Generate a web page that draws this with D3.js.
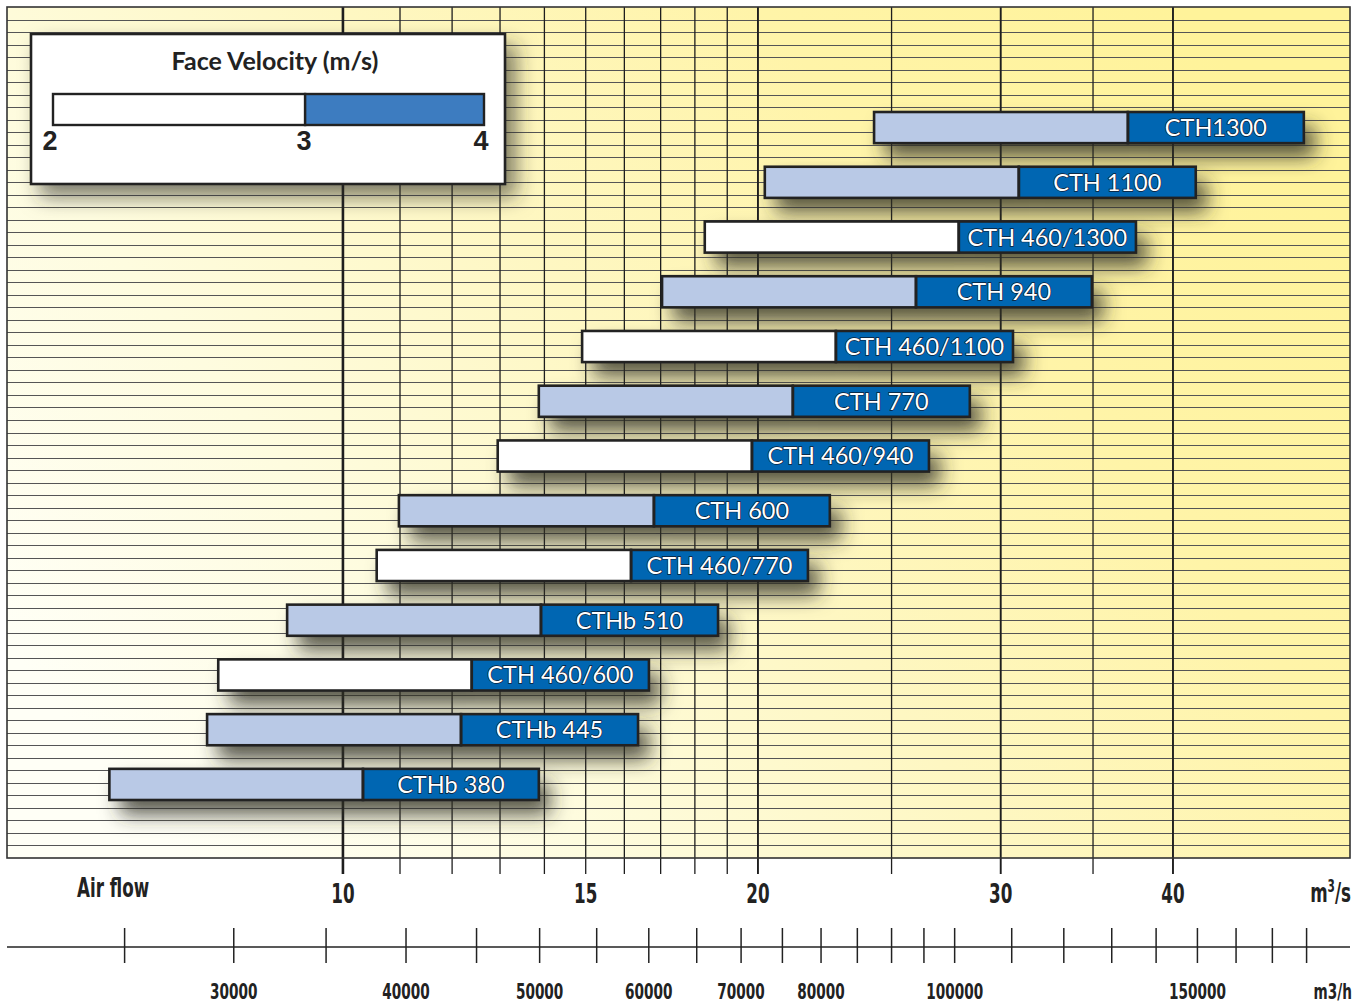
<!DOCTYPE html>
<html>
<head>
<meta charset="utf-8">
<script src="https://cdn.jsdelivr.net/npm/d3@7/dist/d3.min.js"></script>
<style>
  html, body { margin: 0; padding: 0; background: #ffffff; }
  svg { display: block; }
</style>
</head>
<body>
<svg id="chart" width="1370" height="1005"></svg>
<script>
// ---------------- DATA ----------------
// Product models (top to bottom)
const models = ["CTH1300", "CTH 1100", "CTH 460/1300", "CTH 940", "CTH 460/1100",
  "CTH 770", "CTH 460/940", "CTH 600", "CTH 460/770", "CTHb 510",
  "CTH 460/600", "CTHb 445", "CTHb 380"];
// Air flow (m3/s) at face velocity 2 m/s, 3 m/s, 4 m/s
const flowAt2 = [24.28, 20.23, 18.30, 17.04, 14.91, 13.87, 12.95, 10.98, 10.58, 9.11, 8.12, 7.97, 6.77];
const flowAt3 = [37.10, 30.92, 27.97, 26.04, 22.78, 21.20, 19.80, 16.81, 16.18, 13.92, 12.40, 12.18, 10.34];
const flowAt4 = [49.77, 41.55, 37.60, 34.93, 30.62, 28.49, 26.61, 22.55, 21.74, 18.71, 16.67, 16.37, 13.87];
// Low-velocity segment style: "light" = light blue, "white" = white (CTH 460 series)
const lowFill = ["light", "light", "white", "light", "white", "light", "white", "light", "white", "light", "white", "light", "light"];

// Axis values
const gridM3s = [10, 11, 12, 13, 14, 15, 16, 17, 18, 19, 20, 25, 30, 35, 40];
const majorM3s = [10, 20, 30, 40];
const labelM3s = [10, 15, 20, 30, 40];
const ticksM3h = [25000, 30000, 35000, 40000, 45000, 50000, 55000, 60000, 65000, 70000, 75000,
  80000, 85000, 90000, 95000, 100000, 110000, 120000, 130000, 140000, 150000, 160000, 170000, 180000];
const labelM3h = [30000, 40000, 50000, 60000, 70000, 80000, 100000, 150000];
const legendVel = [2, 3, 4];
const legendTitle = "Face Velocity (m/s)";

// ---------------- LAYOUT ----------------
const svg = d3.select("#chart");
const plot = { left: 7, right: 1350, top: 7, bottom: 858 };

const x = d3.scaleLog().domain([5.706, 53.76]).range([plot.left, plot.right]);
const y = d3.scaleBand().domain(models).range([112, 800]).paddingInner(0.431).paddingOuter(0);
const gridRows = d3.scaleLinear().domain([0, 68]).range([plot.top, plot.bottom]);

const COL = {
  light: "#b9c9e6",
  white: "#ffffff",
  dark: "#0066b2",
  legendBlue: "#3d7cc0",
  stroke: "#222222"
};

const defs = svg.append("defs");
const bg = defs.append("linearGradient").attr("id", "bg")
  .attr("x1", "0").attr("y1", "0.75").attr("x2", "1").attr("y2", "0.25");
[[0, "#fffff6"], [0.25, "#fefcdf"], [0.5, "#fef7c2"], [0.75, "#fff4a8"], [1, "#fff39a"]]
  .forEach(([o, c]) => bg.append("stop").attr("offset", o).attr("stop-color", c));

const sh = defs.append("filter").attr("id", "shadow")
  .attr("x", "-25%").attr("y", "-100%").attr("width", "170%").attr("height", "380%");
sh.append("feDropShadow").attr("dx", 11).attr("dy", 14).attr("stdDeviation", 10)
  .attr("flood-color", "#2e2e26").attr("flood-opacity", 0.82);

const sh2 = defs.append("filter").attr("id", "shadow2")
  .attr("x", "-20%").attr("y", "-30%").attr("width", "150%").attr("height", "170%");
sh2.append("feDropShadow").attr("dx", 10).attr("dy", 12).attr("stdDeviation", 10)
  .attr("flood-color", "#2e2e26").attr("flood-opacity", 0.6);

// background
svg.append("rect").attr("x", plot.left).attr("y", plot.top)
  .attr("width", plot.right - plot.left).attr("height", plot.bottom - plot.top)
  .attr("fill", "url(#bg)");

// horizontal grid lines
svg.append("g").selectAll("line").data(d3.range(1, 68)).join("line")
  .attr("x1", plot.left).attr("x2", plot.right)
  .attr("y1", d => Math.round(gridRows(d)) + 0.5).attr("y2", d => Math.round(gridRows(d)) + 0.5)
  .attr("stroke", "#555").attr("stroke-width", 1.1);

// vertical grid lines (with ticks below plot)
svg.append("g").selectAll("line").data(gridM3s).join("line")
  .attr("x1", d => x(d)).attr("x2", d => x(d))
  .attr("y1", plot.top).attr("y2", plot.bottom + 16)
  .attr("stroke", "#1e1e1e")
  .attr("stroke-width", d => d === 10 ? 2.6 : (majorM3s.includes(d) ? 1.9 : 1.3));

// plot border
svg.append("rect").attr("x", plot.left).attr("y", plot.top)
  .attr("width", plot.right - plot.left).attr("height", plot.bottom - plot.top)
  .attr("fill", "none").attr("stroke", "#333").attr("stroke-width", 1.6);

// ---------------- BARS ----------------
const bars = svg.append("g").selectAll("g").data(models).join("g");
const shapes = bars.append("g").attr("filter", "url(#shadow)");
shapes.append("rect")
  .attr("x", (d, i) => x(flowAt2[i])).attr("y", d => y(d))
  .attr("width", (d, i) => x(flowAt3[i]) - x(flowAt2[i])).attr("height", y.bandwidth())
  .attr("fill", (d, i) => COL[lowFill[i]]);
shapes.append("rect")
  .attr("x", (d, i) => x(flowAt3[i])).attr("y", d => y(d))
  .attr("width", (d, i) => x(flowAt4[i]) - x(flowAt3[i])).attr("height", y.bandwidth())
  .attr("fill", COL.dark);
bars.append("rect")
  .attr("x", (d, i) => x(flowAt2[i])).attr("y", d => y(d))
  .attr("width", (d, i) => x(flowAt3[i]) - x(flowAt2[i])).attr("height", y.bandwidth())
  .attr("fill", "none").attr("stroke", COL.stroke).attr("stroke-width", 2.6);
bars.append("rect")
  .attr("x", (d, i) => x(flowAt3[i])).attr("y", d => y(d))
  .attr("width", (d, i) => x(flowAt4[i]) - x(flowAt3[i])).attr("height", y.bandwidth())
  .attr("fill", "none").attr("stroke", COL.stroke).attr("stroke-width", 2.6);
bars.append("text")
  .attr("x", (d, i) => (x(flowAt3[i]) + x(flowAt4[i])) / 2)
  .attr("y", d => y(d) + y.bandwidth() / 2)
  .attr("dy", "0.36em")
  .attr("text-anchor", "middle")
  .attr("font-family", "Lato, 'Open Sans', sans-serif")
  .attr("font-size", 23.5)
  .attr("fill", "#ffffff")
  .attr("stroke", "#0d1b33").attr("stroke-width", 1.4).attr("paint-order", "stroke")
  .text(d => d);

// ---------------- LEGEND ----------------
const lg = svg.append("g");
lg.append("rect").attr("x", 31).attr("y", 34).attr("width", 474).attr("height", 150)
  .attr("fill", "#ffffff").attr("stroke", COL.stroke).attr("stroke-width", 2.6)
  .attr("filter", "url(#shadow2)");
lg.append("text").attr("x", 275).attr("y", 70).attr("text-anchor", "middle")
  .attr("font-family", "Lato, sans-serif").attr("font-weight", 700).attr("font-size", 25)
  .attr("fill", "#222").text(legendTitle);
const lx = d3.scaleLog().domain([legendVel[0], legendVel[2]]).range([53, 484]);
lg.append("rect").attr("x", lx(legendVel[0])).attr("y", 94)
  .attr("width", lx(legendVel[1]) - lx(legendVel[0])).attr("height", 31)
  .attr("fill", "#ffffff").attr("stroke", COL.stroke).attr("stroke-width", 2.4);
lg.append("rect").attr("x", lx(legendVel[1])).attr("y", 94)
  .attr("width", lx(legendVel[2]) - lx(legendVel[1])).attr("height", 31)
  .attr("fill", COL.legendBlue).attr("stroke", COL.stroke).attr("stroke-width", 2.4);
lg.selectAll("text.v").data(legendVel).join("text").attr("class", "v")
  .attr("x", d => lx(d) - (d === legendVel[0] ? 3 : (d === legendVel[2] ? 3 : 1)))
  .attr("y", 150).attr("text-anchor", "middle")
  .attr("font-family", "'Liberation Sans', Arial, sans-serif").attr("font-weight", 700)
  .attr("font-size", 27).attr("fill", "#222").text(d => d);

// ---------------- AXES ----------------
const condensed = (g, px, py, size, anchor) => g.append("text")
  .attr("transform", `translate(${px},${py}) scale(0.62,1)`)
  .attr("text-anchor", anchor)
  .attr("font-family", "'DejaVu Sans', sans-serif").attr("font-weight", 700)
  .attr("font-size", size).attr("fill", "#222");

const ax = svg.append("g");
labelM3s.forEach(v => condensed(ax, x(v), 903, 27, "middle").text(v));
condensed(ax, 77, 897, 27, "start").text("Air flow");
const ms = condensed(ax, 1351, 902, 27, "end");
ms.append("tspan").text("m");
ms.append("tspan").attr("dy", -10).attr("font-size", 17).text("3");
ms.append("tspan").attr("dy", 10).text("/s");

// lower m3/h axis using same scale (m3/h / 3600 = m3/s)
const low = svg.append("g");
low.append("line").attr("x1", plot.left).attr("x2", plot.right).attr("y1", 947).attr("y2", 947)
  .attr("stroke", "#222").attr("stroke-width", 1.6);
low.selectAll("line.t").data(ticksM3h).join("line").attr("class", "t")
  .attr("x1", d => x(d / 3600)).attr("x2", d => x(d / 3600))
  .attr("y1", 928).attr("y2", 963).attr("stroke", "#222").attr("stroke-width", 1.5);
labelM3h.forEach(v => condensed(low, x(v / 3600), 999, 22, "middle").text(v));
condensed(low, 1352, 999, 22, "end").text("m3/h");
</script>
</body>
</html>
